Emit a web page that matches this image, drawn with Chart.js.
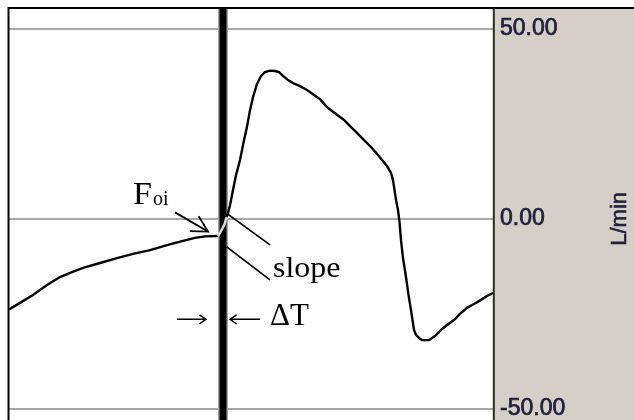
<!DOCTYPE html>
<html>
<head>
<meta charset="utf-8">
<script src="https://cdn.jsdelivr.net/npm/chart.js@4/dist/chart.umd.min.js"></script>
<style>
  html, body { margin: 0; padding: 0; background: #fff; }
  #wrap { width: 634px; height: 420px; }
</style>
</head>
<body>
<div id="wrap"><canvas id="c" width="634" height="420"></canvas></div>
<script>
// Flow signal (L/min) against time (s)
const time = [
  0.00, 0.11, 0.24, 0.38, 0.51, 0.63, 0.74, 0.91, 1.08, 1.24, 1.41, 1.58, 1.74, 1.86, 1.96, 2.09,
  2.11, 2.13, 2.155, 2.175, 2.19, 2.21, 2.24, 2.27, 2.31, 2.35, 2.38, 2.41, 2.44, 2.48, 2.52, 2.56,
  2.61, 2.66, 2.70, 2.74, 2.79, 2.84, 2.91, 2.98, 3.05, 3.11, 3.18, 3.26, 3.35, 3.41, 3.48, 3.55,
  3.62, 3.68, 3.73, 3.78, 3.82, 3.84, 3.855, 3.87, 3.89, 3.905, 3.92, 3.94, 3.97, 3.995, 4.02, 4.05,
  4.07, 4.10, 4.13, 4.20, 4.26, 4.32, 4.38, 4.45, 4.51, 4.58, 4.65, 4.72, 4.78, 4.84
];
const flow = [
  -23.8, -22.1, -20.0, -17.4, -15.3, -14.0, -12.9, -11.6, -10.3, -9.2, -8.2, -6.9, -5.8, -5.0, -4.6, -4.5,
  -3.7, -2.7, -1.4, 0.5, 1.5, 3.6, 7.6, 11.5, 15.5, 20.7, 24.2, 28.6, 32.0, 35.5, 37.6, 38.6,
  39.0, 38.9, 38.6, 37.6, 36.5, 35.7, 34.9, 33.9, 32.6, 31.5, 29.4, 27.8, 26.0, 24.4, 22.6, 20.7,
  18.9, 17.1, 15.5, 13.9, 12.1, 10.2, 7.6, 5.0, 2.3, -0.8, -5.6, -10.3, -15.3, -20.0, -24.0, -29.2,
  -30.5, -31.3, -31.9, -31.9, -30.8, -29.2, -27.9, -26.6, -25.0, -23.4, -22.4, -21.3, -20.3, -19.5
];
const yTicks = [-50, 0, 50];
const markerTime = 2.14;   // cursor position (s)
const axisUnit = 'L/min';

const serif = '"Liberation Serif", "Times New Roman", serif';
const sans = '"Liberation Sans", Arial, sans-serif';

function arrowHead(ctx, tx, ty, fromX, fromY, len, spread) {
  const a = Math.atan2(ty - fromY, tx - fromX);
  ctx.beginPath();
  ctx.moveTo(tx - len * Math.cos(a - spread), ty - len * Math.sin(a - spread));
  ctx.lineTo(tx, ty);
  ctx.lineTo(tx - len * Math.cos(a + spread), ty - len * Math.sin(a + spread));
  ctx.stroke();
}

function wideText(ctx, text, x, y, sx) {
  ctx.save();
  ctx.translate(x, y);
  ctx.scale(sx, 1);
  ctx.fillText(text, 0, 0);
  ctx.restore();
}

const frame = {
  id: 'frame',
  beforeDraw(chart) {
    const { ctx, chartArea: a, width, height } = chart;
    ctx.save();
    ctx.fillStyle = '#ffffff';
    ctx.fillRect(0, 0, width, height);
    ctx.fillStyle = '#d4d0c8';
    ctx.fillRect(a.right, a.top - 1, width - a.right, height - a.top + 1);
    ctx.restore();
  },
  afterDraw(chart) {
    const { ctx, chartArea: a, width, height } = chart;
    const xs = chart.scales.x, ys = chart.scales.y;
    const xm = xs.getPixelForValue(markerTime);
    const y0 = ys.getPixelForValue(0);
    ctx.save();
    // frame lines
    ctx.strokeStyle = '#000';
    ctx.lineWidth = 2;
    ctx.beginPath();
    ctx.moveTo(a.left - 1.5, a.top - 1); ctx.lineTo(width, a.top - 1);
    ctx.moveTo(a.left - 0.5, a.top - 1); ctx.lineTo(a.left - 0.5, height);
    ctx.stroke();
    ctx.strokeStyle = '#2a2a2a';
    ctx.beginPath();
    ctx.moveTo(a.right + 0.8, a.top); ctx.lineTo(a.right + 0.8, height);
    ctx.stroke();

    // unit label, reading bottom to top
    ctx.fillStyle = '#22203a';
    ctx.strokeStyle = '#22203a';
    ctx.lineWidth = 0.6;
    ctx.font = '22px ' + sans;
    ctx.textAlign = 'center';
    ctx.textBaseline = 'middle';
    ctx.translate(619.5, y0);
    ctx.rotate(-Math.PI / 2);
    ctx.fillText(axisUnit, 0, 0);
    ctx.strokeText(axisUnit, 0, 0);
    ctx.restore();

    // annotations
    ctx.save();
    ctx.fillStyle = '#000';
    ctx.strokeStyle = '#000';
    ctx.textBaseline = 'alphabetic';
    ctx.textAlign = 'left';
    ctx.font = '31px ' + serif;
    wideText(ctx, 'F', xm - 90, y0 - 14.5, 1.1);
    ctx.font = '20px ' + serif;
    ctx.fillText('oi', xm - 70, y0 - 13.5);

    ctx.lineWidth = 1.8;
    ctx.beginPath();
    ctx.moveTo(xm - 48, y0 - 6.5); ctx.lineTo(xm - 15, y0 + 12.7);
    ctx.stroke();
    arrowHead(ctx, xm - 15, y0 + 12.7, xm - 48, y0 - 6.5, 18, 0.5);

    ctx.beginPath();
    ctx.moveTo(xm + 3.7, y0 - 5.5); ctx.lineTo(xm + 47, y0 + 26);
    ctx.moveTo(xm + 3.7, y0 + 28); ctx.lineTo(xm + 47, y0 + 61);
    ctx.stroke();

    ctx.font = '29px ' + serif;
    wideText(ctx, 'slope', xm + 50, y0 + 58.5, 1.1);

    ctx.font = '31px ' + serif;
    ctx.fillText('\u0394T', xm + 47, y0 + 106);

    ctx.lineWidth = 1.5;
    const ya = y0 + 100.5;
    ctx.beginPath();
    ctx.moveTo(xm - 46, ya); ctx.lineTo(xm - 17, ya);
    ctx.moveTo(xm + 7, ya); ctx.lineTo(xm + 37, ya);
    ctx.stroke();
    arrowHead(ctx, xm - 17, ya, xm - 46, ya, 8, 0.6);
    arrowHead(ctx, xm + 7, ya, xm + 37, ya, 8, 0.6);
    ctx.restore();
  }
};

const insideCursor = c =>
  c.p0.parsed.x >= markerTime - 0.055 && c.p1.parsed.x <= markerTime + 0.04;

const cursorPts = [{ x: markerTime, y: -60 }, { x: markerTime, y: 60 }];

new Chart(document.getElementById('c'), {
  type: 'line',
  data: {
    datasets: [
      {
        data: time.map((t, i) => ({ x: t, y: flow[i] })),
        borderColor: '#000',
        borderWidth: 2.4,
        pointRadius: 0,
        tension: 0,
        order: 0,
        segment: { borderColor: c => insideCursor(c) ? '#dcdcdc' : '#000' }
      },
      { data: cursorPts, borderColor: '#000', borderWidth: 7, pointRadius: 0, order: 1 },
      { data: cursorPts, borderColor: '#a4a4a4', borderWidth: 10, pointRadius: 0, order: 2 }
    ]
  },
  options: {
    responsive: false,
    animation: false,
    events: [],
    plugins: { legend: { display: false }, tooltip: { enabled: false } },
    layout: { padding: { left: 9, top: 9, right: 0, bottom: 0 } },
    scales: {
      x: { type: 'linear', min: 0, max: 4.84, display: false },
      y: {
        position: 'right',
        min: -52.9,
        max: 55.2,
        afterBuildTicks: s => { s.ticks = yTicks.map(v => ({ value: v })); },
        afterFit: s => { s.width = 141; s.paddingTop = 0; s.paddingBottom = 0; },
        grid: { color: '#a8a8a8', lineWidth: 2, drawTicks: false },
        border: { display: false },
        ticks: {
          padding: 7,
          color: '#20203a',
          textStrokeColor: '#20203a',
          textStrokeWidth: 0.7,
          font: { family: sans, size: 23 },
          callback: v => v.toFixed(2)
        }
      }
    }
  },
  plugins: [frame]
});
</script>
</body>
</html>
